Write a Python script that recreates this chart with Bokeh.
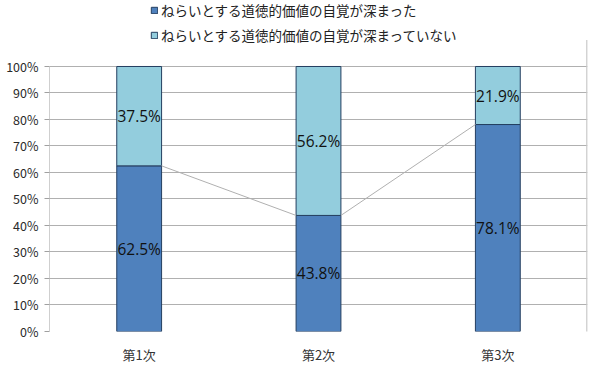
from bokeh.plotting import figure
from bokeh.models import ColumnDataSource, Legend, LegendItem, FixedTicker
from bokeh.transform import dodge
from bokeh.core.properties import value
from bokeh.embed import file_html
from bokeh.resources import INLINE

categories = ["第1次", "第2次", "第3次"]
deepened = [62.5, 43.8, 78.1]
not_deepened = [37.5, 56.2, 21.9]
series_names = ["ねらいとする道徳的価値の自覚が深まった", "ねらいとする道徳的価値の自覚が深まっていない"]
y_ticks = [0, 10, 20, 30, 40, 50, 60, 70, 80, 90, 100]

FONT = "Noto Sans CJK JP"
C1 = "#4f81bd"
C2 = "#93cddd"
GRID = "#b0b0b0"

src = ColumnDataSource(dict(
    cat=categories,
    a=deepened,
    b=not_deepened,
    top_b=[x + y for x, y in zip(deepened, not_deepened)],
    mid_a=[x / 2 for x in deepened],
    mid_b=[x + y / 2 for x, y in zip(deepened, not_deepened)],
    lab_a=[f"{x:.1f}%" for x in deepened],
    lab_b=[f"{y:.1f}%" for y in not_deepened],
))

# extra headroom above 100% holds the legend (plot frame reaches the top of the canvas)
p = figure(x_range=categories, y_range=(0, 124.9), frame_width=538, frame_height=331,
           output_backend="svg", toolbar_location=None,
           min_border_left=49, min_border_right=3, min_border_top=0, min_border_bottom=30)
p.x_range.range_padding = 0
p.background_fill_color = "white"
p.border_fill_color = "white"
p.outline_line_color = None

p.xgrid.grid_line_color = None
p.ygrid.grid_line_color = GRID
p.ygrid.ticker = FixedTicker(ticks=y_ticks)

# left axis line and right border
p.segment(x0=dodge("cat", -0.5, range=p.x_range), y0=0, x1=dodge("cat", -0.5, range=p.x_range), y1=100,
          source=ColumnDataSource(dict(cat=[categories[0]])), line_color="#a0a0a0", line_width=1)
p.segment(x0=dodge("cat", 0.497, range=p.x_range), y0=-1.5, x1=dodge("cat", 0.497, range=p.x_range), y1=110,
          source=ColumnDataSource(dict(cat=[categories[-1]])), line_color="#c8c8c8", line_width=1.5)

r1 = p.vbar(x="cat", bottom=0, top="a", width=0.25, source=src,
            fill_color=C1, line_color="#243f60", line_width=1)
r2 = p.vbar(x="cat", bottom="a", top="top_b", width=0.25, source=src,
            fill_color=C2, line_color="#243f60", line_width=1)

# series lines
seg = ColumnDataSource(dict(c0=categories[:-1], c1=categories[1:], y0=deepened[:-1], y1=deepened[1:]))
p.segment(x0=dodge("c0", 0.125, range=p.x_range), y0="y0",
          x1=dodge("c1", -0.125, range=p.x_range), y1="y1",
          source=seg, line_color="#b0b0b0", line_width=1)

p.text(x="cat", y="mid_a", text="lab_a", source=src, text_align="center", text_baseline="middle",
       text_font=value("Open Sans"), text_font_size="15.5px", text_color="#111111")
p.text(x="cat", y="mid_b", text="lab_b", source=src, text_align="center", text_baseline="middle",
       text_font=value("Open Sans"), text_font_size="15.5px", text_color="#111111")

p.yaxis.ticker = FixedTicker(ticks=y_ticks)
p.yaxis.major_label_overrides = {t: f"{t}%" for t in y_ticks}
p.yaxis.major_label_text_font = FONT
p.yaxis.major_label_text_font_size = "12.5px"
p.yaxis.major_label_text_color = "#2a2a2a"
p.yaxis.major_tick_in = 0
p.yaxis.major_tick_out = 5
p.yaxis.minor_tick_line_color = None
p.yaxis.axis_line_color = None
p.yaxis.major_tick_line_color = "#a0a0a0"
p.yaxis.major_label_standoff = 6

p.xaxis.major_label_text_font = FONT
p.xaxis.major_label_text_font_size = "13px"
p.xaxis.major_label_text_color = "#333333"
p.xaxis.major_tick_line_color = None
p.xaxis.axis_line_color = None
p.xaxis.major_label_standoff = 7

legend = Legend(items=[LegendItem(label=series_names[0], renderers=[r1]),
                       LegendItem(label=series_names[1], renderers=[r2])],
                location=(101, 286), orientation="vertical",
                label_text_font=FONT, label_text_font_size="13.5px", label_text_color="#222222",
                glyph_width=8, glyph_height=8, spacing=5, padding=0, margin=0,
                label_standoff=3, border_line_color=None, background_fill_alpha=0)
p.add_layout(legend, "center")

open("out.html", "w").write(file_html(p, INLINE))
